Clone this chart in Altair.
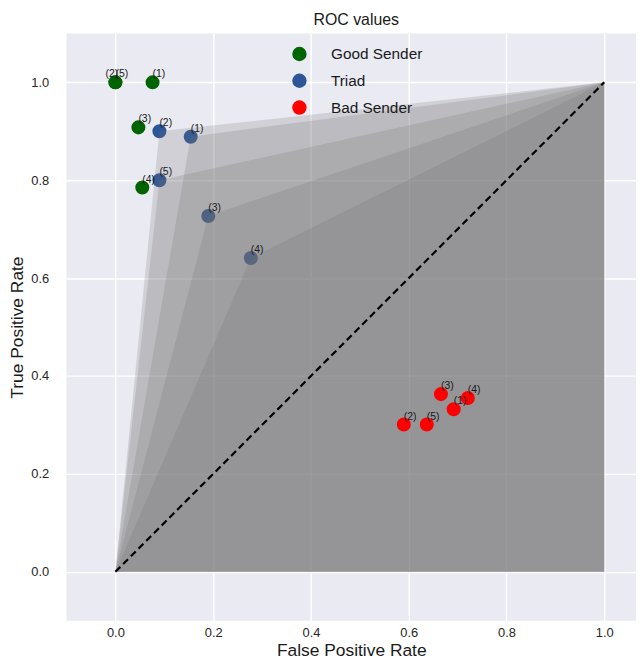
import altair as alt
import pandas as pd

# ---- data ----
groups = ["Good Sender", "Triad", "Bad Sender"]
colors = ["#006400", "#2D5597", "#FF0000"]

good_ids = ["(1)", "(2)", "(3)", "(4)", "(5)"]
good_fpr = [0.076, 0.0, 0.047, 0.055, 0.0]
good_tpr = [1.0, 1.0, 0.908, 0.785, 1.0]

triad_ids = ["(1)", "(2)", "(3)", "(4)", "(5)"]
triad_fpr = [0.154, 0.090, 0.190, 0.277, 0.090]
triad_tpr = [0.889, 0.900, 0.727, 0.641, 0.800]

bad_ids = ["(1)", "(2)", "(3)", "(4)", "(5)"]
bad_fpr = [0.692, 0.590, 0.666, 0.721, 0.637]
bad_tpr = [0.332, 0.301, 0.363, 0.355, 0.301]

diag_x = [0.0, 1.0]
diag_y = [0.0, 1.0]

x_ticks = [0.0, 0.2, 0.4, 0.6, 0.8, 1.0]
y_ticks = [0.0, 0.2, 0.4, 0.6, 0.8, 1.0]

# ---- tables ----
rows = []
for g, ids, fx, ty in [("Good Sender", good_ids, good_fpr, good_tpr),
                       ("Triad", triad_ids, triad_fpr, triad_tpr),
                       ("Bad Sender", bad_ids, bad_fpr, bad_tpr)]:
    for i, a, b in zip(ids, fx, ty):
        rows.append({"group": g, "id": i, "fpr": a, "tpr": b, "key": g + i})
pts = pd.DataFrame(rows)

diag = pd.DataFrame({"fpr": diag_x, "tpr": diag_y})

FONT = "Liberation Sans"

xscale = alt.Scale(domain=[-0.1, 1.065], nice=False, zero=False)
yscale = alt.Scale(domain=[-0.1, 1.1], nice=False, zero=False)
xaxis = alt.Axis(values=x_ticks, format=".1f", title="False Positive Rate")
yaxis = alt.Axis(values=y_ticks, format=".1f", title="True Positive Rate")

X = alt.X("fpr:Q", scale=xscale, axis=xaxis)
Y = alt.Y("tpr:Q", scale=yscale, axis=yaxis)

color = alt.Color("group:N", scale=alt.Scale(domain=groups, range=colors),
                  legend=alt.Legend(title=None, orient="none", legendX=227, legendY=13,
                                    symbolSize=210, labelFontSize=15.5, rowPadding=10,
                                    labelOffset=24, symbolStrokeWidth=0, labelFont=FONT,
                                    labelColor="#1a1a1a"))

base_pts = alt.Chart(pts).mark_circle(size=200, opacity=1).encode(x=X, y=Y, color=color)

good_layer = base_pts.transform_filter(alt.datum.group == "Good Sender")
triad_layer = base_pts.transform_filter(alt.datum.group == "Triad")
bad_layer = base_pts.transform_filter(alt.datum.group == "Bad Sender")

# one shaded region per triad point: (0,0) -> point -> (1,1), filled down to 0
area_layers = []
for i, a, b in zip(triad_ids, triad_fpr, triad_tpr):
    poly = pd.DataFrame({"fpr": [0.0, a, 1.0], "tpr": [0.0, b, 1.0], "base": [0.0, 0.0, 0.0]})
    area_layers.append(
        alt.Chart(poly).mark_area(fill="#707070", fillOpacity=0.21, strokeWidth=0).encode(
            x=alt.X("fpr:Q", scale=xscale, axis=xaxis),
            y=alt.Y("tpr:Q", scale=yscale, axis=yaxis, stack=None),
            y2=alt.Y2("base"),
        )
    )

diag_line = alt.Chart(diag).mark_line(color="black", strokeWidth=2.2, strokeDash=[7, 4]).encode(
    x=X, y=Y
)

labels = alt.Chart(pts).mark_text(align="left", baseline="alphabetic", dy=-5, fontSize=10.5,
                                  font=FONT, color="#1a1a1a").encode(
    x=X, y=Y, text="id:N"
).transform_filter(alt.datum.key != "Good Sender(2)")

label_shift = alt.Chart(pts).mark_text(align="left", baseline="alphabetic", dy=-5, dx=-10,
                                       fontSize=10.5, font=FONT, color="#1a1a1a").encode(
    x=X, y=Y, text="id:N"
).transform_filter(alt.datum.key == "Good Sender(2)")

chart = alt.layer(
    good_layer, triad_layer, *area_layers, diag_line, bad_layer, label_shift, labels
).properties(
    width=574, height=592,
    title=alt.TitleParams("ROC values", fontSize=16, fontWeight="normal", font=FONT,
                          color="#1a1a1a", anchor="middle", offset=5, dx=5),
    padding={"left": 0, "right": 0, "top": 2, "bottom": 0},
).configure_view(
    fill="#EAEAF2", stroke=None
).configure_axis(
    grid=True, gridColor="white", gridWidth=1.4, domain=False, ticks=False,
    labelFont=FONT, labelFontSize=13, labelColor="#262626",
    titleFont=FONT, titleFontSize=17.5, titleFontWeight="normal", titleColor="#1a1a1a",
).configure_axisY(
    labelPadding=18, titlePadding=4
).configure_axisX(
    labelPadding=6, titlePadding=2
)

chart.save("out.html", embed_options={"renderer": "svg", "actions": False})
